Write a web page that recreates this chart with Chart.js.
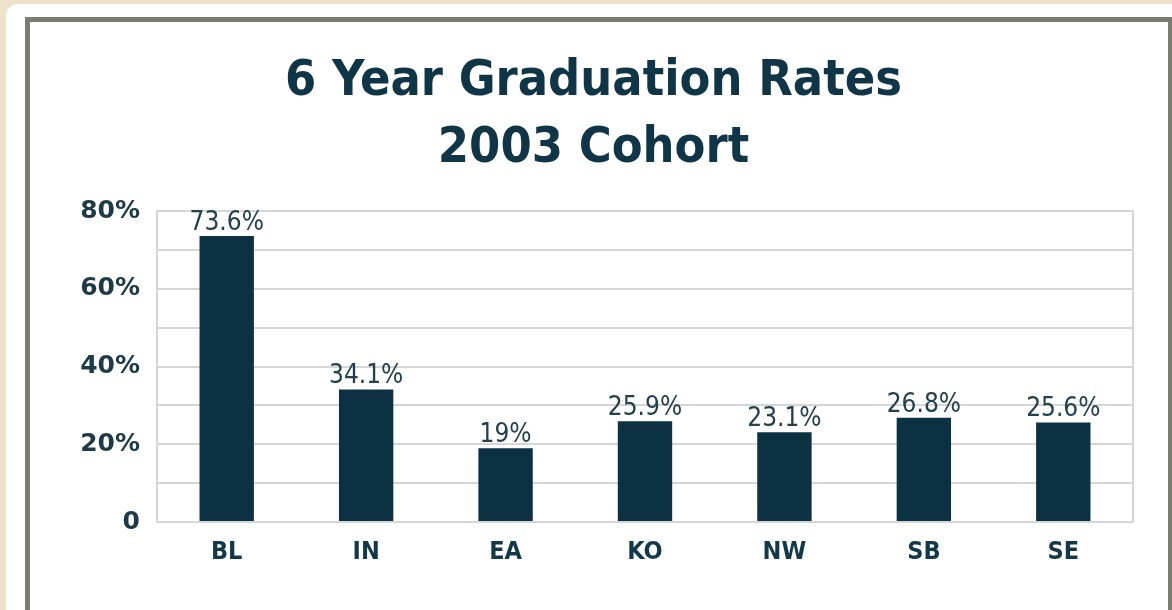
<!DOCTYPE html>
<html>
<head>
<meta charset="utf-8">
<script src="https://cdn.jsdelivr.net/npm/chart.js@4.4.0/dist/chart.umd.min.js"></script>
<style>
  html, body { margin: 0; padding: 0; }
  body { width: 1172px; height: 610px; background: #ede3cb; overflow: hidden; position: relative; }
  #panel { position: absolute; left: 6px; top: 4px; width: 1200px; height: 700px; background: #fff; border-radius: 12px; }
  #frame { position: absolute; left: 25px; top: 17px; width: 1138px; height: 700px;
           border-left: 5px solid #7b7c70; border-top: 5px solid #7b7c70; border-right: 4px solid #7b7c70; background: #fff; }
  #wrap { position: absolute; left: 0; top: 0; width: 1138px; height: 589px; }
</style>
</head>
<body>
<div id="panel"></div>
<div id="frame">
  <div id="wrap"><canvas id="gradChart"></canvas></div>
</div>
<script>
// Chart data
const campuses = ['BL', 'IN', 'EA', 'KO', 'NW', 'SB', 'SE'];
const gradRates = [73.6, 34.1, 19, 25.9, 23.1, 26.8, 25.6];
const titleLines = ['6 Year Graduation Rates', '2003 Cohort'];

const NAVY = '#0c3142';
const GRID = '#d6d6d6';
const NARROW = '"Liberation Sans Narrow", "DejaVu Sans Condensed", sans-serif';

// value labels above each bar
const barLabels = {
  id: 'barLabels',
  afterDatasetsDraw(chart) {
    const ctx = chart.ctx;
    const meta = chart.getDatasetMeta(0);
    ctx.save();
    ctx.font = '26px ' + NARROW;
    ctx.fillStyle = '#22404e';
    ctx.textAlign = 'center';
    ctx.textBaseline = 'alphabetic';
    meta.data.forEach((bar, i) => {
      ctx.fillText(gradRates[i] + '%', bar.x, bar.y - 6);
    });
    ctx.restore();
  }
};

new Chart(document.getElementById('gradChart').getContext('2d'), {
  type: 'bar',
  data: {
    labels: campuses,
    datasets: [{
      data: gradRates,
      backgroundColor: NAVY,
      barPercentage: 0.39,
      categoryPercentage: 1
    }]
  },
  options: {
    responsive: true,
    maintainAspectRatio: false,
    animation: false,
    layout: { padding: { left: 0, right: 11, top: 0, bottom: 37 } },
    plugins: {
      legend: { display: false },
      tooltip: { enabled: false },
      title: {
        display: true,
        text: titleLines,
        color: '#0f3546',
        font: { family: NARROW, size: 50, weight: 'bold', lineHeight: 1.34 },
        padding: { top: 27, bottom: 28 }
      }
    },
    scales: {
      x: {
        grid: { display: false },
        border: { display: true, color: GRID, width: 2 },
        ticks: { color: '#13384a', padding: 7, font: { family: NARROW, size: 25, weight: 'bold' } }
      },
      y: {
        min: 0,
        max: 80,
        afterFit(scale) { scale.width = 127; },
        grid: { color: GRID, lineWidth: 2, drawTicks: false },
        border: { display: true, color: GRID, width: 2 },
        ticks: {
          stepSize: 10,
          padding: 17,
          color: '#1c3a48',
          font: { family: '"DejaVu Sans", sans-serif', size: 25, weight: 'bold' },
          callback: v => (v % 20 !== 0 ? '' : (v === 0 ? '0' : v + '%'))
        }
      },
      y2: {
        position: 'right',
        min: 0,
        max: 80,
        afterFit(scale) { scale.width = 24; },
        grid: { display: false },
        border: { display: true, color: GRID, width: 2 },
        ticks: { display: false }
      }
    }
  },
  plugins: [barLabels]
});
</script>
</body>
</html>
